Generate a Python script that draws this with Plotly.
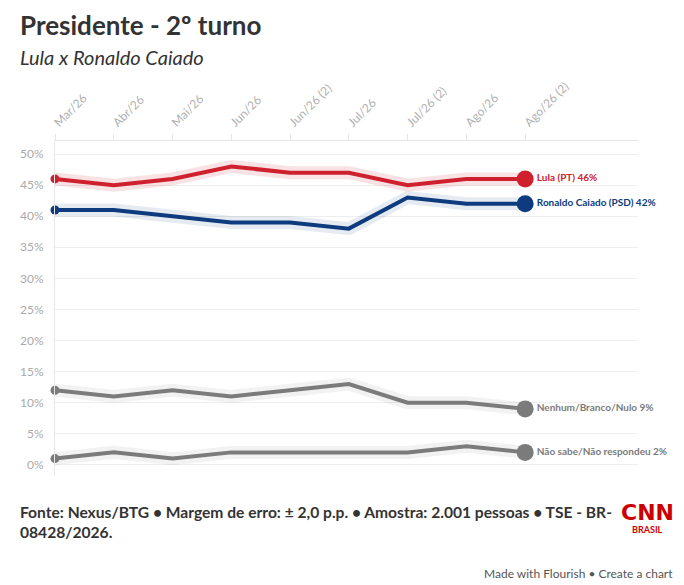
import plotly.graph_objects as go

months = ['Mar/26', 'Abr/26', 'Mai/26', 'Jun/26', 'Jun/26 (2)', 'Jul/26', 'Jul/26 (2)', 'Ago/26', 'Ago/26 (2)']

lula = [46, 45, 46, 48, 47, 47, 45, 46, 46]
caiado = [41, 41, 40, 39, 39, 38, 43, 42, 42]
nenhum = [12, 11, 12, 11, 12, 13, 10, 10, 9]
nao_sabe = [1, 2, 1, 2, 2, 2, 2, 3, 2]

y_ticks = [0, 5, 10, 15, 20, 25, 30, 35, 40, 45, 50]

names = ['Lula (PT)', 'Ronaldo Caiado (PSD)', 'Nenhum/Branco/Nulo', 'Não sabe/Não respondeu']
series = [lula, caiado, nenhum, nao_sabe]
colors = ['#cf202e', '#0d3b7d', '#7b7b7b', '#7b7b7b']
halos = ['rgba(207,32,46,0.13)', 'rgba(13,59,125,0.10)', 'rgba(123,123,123,0.10)', 'rgba(123,123,123,0.10)']

FONT = 'Lato'
x = list(range(len(months)))

# page has an 8px body margin, so the figure is drawn 8px smaller and all
# pixel positions below are given in the reference's page coordinates
OFF = 8
W, H = 684 - OFF, 585 - OFF
L, R, T, B = 53 - OFF, 46, 141 - OFF, 109

fig = go.Figure()

for name, vals, col, halo in zip(names, series, colors, halos):
    # halo behind the line
    fig.add_trace(go.Scatter(x=x, y=vals, mode='lines', line=dict(color=halo, width=13),
                             hoverinfo='skip', cliponaxis=False))
    fig.add_trace(go.Scatter(x=x, y=vals, mode='lines', line=dict(color=col, width=4),
                             name=name, cliponaxis=False))
    # small dot at start
    fig.add_trace(go.Scatter(x=x[:1], y=vals[:1], mode='markers', marker=dict(color=col, size=9),
                             hoverinfo='skip', cliponaxis=False))
    # big dot + label at the end
    fig.add_trace(go.Scatter(x=x[-1:], y=vals[-1:], mode='markers+text',
                             marker=dict(color=col, size=17),
                             text=['<b>%s %d%%</b>' % (name, vals[-1])],
                             textposition='middle right',
                             textfont=dict(family=FONT, size=10, color=col),
                             cliponaxis=False))

fig.update_layout(
    width=W, height=H,
    showlegend=False,
    plot_bgcolor='white', paper_bgcolor='white',
    font=dict(family=FONT, color='#333333'),
    margin=dict(l=L, r=R, t=T, b=B),
    xaxis=dict(
        side='top', tickvals=x, ticktext=months, tickangle=-45,
        range=[0, 9.92], showgrid=False, zeroline=False,
        showline=True, linecolor='#e6e6e6', linewidth=1,
        ticks='outside', ticklen=6, tickcolor='#e6e6e6',
        tickfont=dict(family=FONT, size=12, color='#b0b0b0'),
    ),
    yaxis=dict(
        range=[-1.8, 52.1], tickvals=y_ticks, ticktext=['%d%%' % v for v in y_ticks],
        showgrid=True, gridcolor='#eeeeee', gridwidth=1,
        zeroline=False, showline=True, linecolor='#e6e6e6', linewidth=1,
        tickfont=dict(family=FONT, size=12, color='#aaaaaa'), ticklabelstandoff=8,
    ),
)

# text, x px, y px, x anchor, y anchor, size, colour, font
texts = [
    ('<b>Presidente - 2º turno</b>', 17, 8, 'left', 'top', 26, '#333333', FONT),
    ('<i>Lula x Ronaldo Caiado</i>', 17, 57, 'left', 'middle', 20, '#333333', FONT),
    ('<b>Fonte: Nexus/BTG • Margem de erro: ± 2,0 p.p. • Amostra: 2.001 pessoas • TSE - BR-</b>'
     '<br><b>08428/2026.</b>', 17, 522, 'left', 'middle', 15.6, '#333333', FONT),
    ('<b>CNN</b>', 648, 512, 'center', 'middle', 22, '#cc0000', 'DejaVu Sans'),
    ('<b>BRASIL</b>', 648, 529, 'center', 'middle', 9, '#cc0000', FONT),
    ('Made with Flourish • Create a chart', 674, 573, 'right', 'middle', 12, '#555555', FONT),
]

pw = W - L - R
ph = H - T - B
for txt, px_x, px_y, xanc, yanc, size, col, fam in texts:
    fig.add_annotation(text=txt, xref='paper', yref='paper',
                       x=(px_x - OFF - L) / pw, y=(H - B - (px_y - OFF)) / ph,
                       showarrow=False, xanchor=xanc, yanchor=yanc, align='left', borderpad=0,
                       font=dict(family=fam, size=size, color=col))

fig.write_html("out.html")
